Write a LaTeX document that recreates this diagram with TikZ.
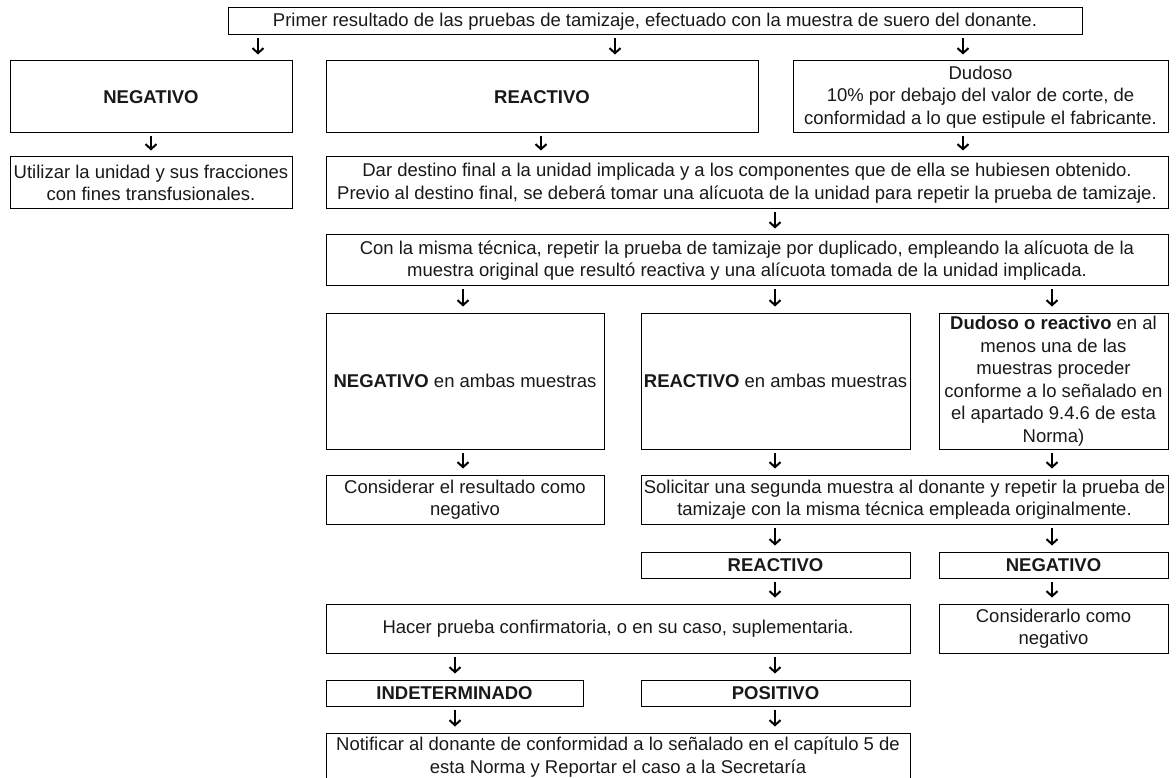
\documentclass[tikz,border=0pt]{standalone}
\usepackage{fontspec}
\setmainfont{Liberation Sans}
\usetikzlibrary{arrows.meta}

\tikzset{
  box/.style={draw, line width=1pt, align=center, inner sep=2pt,
    font=\fontsize{18.5}{22.5}\selectfont, text=black!90},
  arr/.style={line width=2pt, -{Straight Barb[length=5pt,width=11pt]},
    shorten <=3pt, shorten >=6pt}
}

\begin{document}
\begin{tikzpicture}[x=1pt, y=-1pt]
\useasboundingbox (0,0) rectangle (1176,778);
\clip (0,0) rectangle (1176,778);
% first level
\node [box, minimum width=854pt, minimum height=27pt] (primer) at (655,21.5) {Primer resultado de las pruebas de tamizaje, efectuado con la muestra de suero del donante.};
\node [box, minimum width=282pt, minimum height=72pt] (negA) at (151,97) {\textbf{NEGATIVO}};
\node [box, minimum width=432pt, minimum height=72pt] (reacA) at (542,97) {\textbf{REACTIVO}};
\node [box, minimum width=375pt, minimum height=72pt] (dudA) at (980.5,97) {Dudoso\\10\% por debajo del valor de corte, de\\conformidad a lo que estipule el fabricante.};
\node [box, minimum width=282pt, minimum height=52pt] (utilizar) at (151,183) {Utilizar la unidad y sus fracciones\\con fines transfusionales.};
\node [box, minimum width=842pt, minimum height=52pt] (destino) at (747,183) {Dar destino final a la unidad implicada y a los componentes que de ella se hubiesen obtenido.\\Previo al destino final, se deberá tomar una alícuota de la unidad para repetir la prueba de tamizaje.};
\node [box, minimum width=842pt, minimum height=51pt] (repetir) at (747,260.5) {Con la misma técnica, repetir la prueba de tamizaje por duplicado, empleando la alícuota de la\\muestra original que resultó reactiva y una alícuota tomada de la unidad implicada.};
% duplicate test
\node [box, minimum width=278pt, minimum height=136pt] (negB) at (465,381) {\textbf{NEGATIVO} en ambas muestras};
\node [box, minimum width=269pt, minimum height=136pt] (reacB) at (775.5,381) {\textbf{REACTIVO} en ambas muestras};
\node [box, minimum width=229pt, minimum height=136pt] (dudB) at (1053.5,381) {\textbf{Dudoso o reactivo} en al\\menos una de las\\muestras proceder\\conforme a lo señalado en\\el apartado 9.4.6 de esta\\Norma)};
\node [box, minimum width=278pt, minimum height=49pt] (considerar) at (465,499.5) {Considerar el resultado como\\negativo};
\node [box, minimum width=527pt, minimum height=49pt] (solicitar) at (904.5,499.5) {Solicitar una segunda muestra al donante y repetir la prueba de\\tamizaje con la misma técnica empleada originalmente.};
% second sample
\node [box, minimum width=269pt, minimum height=26pt] (reacC) at (775.5,565) {\textbf{REACTIVO}};
\node [box, minimum width=229pt, minimum height=26pt] (negC) at (1053.5,565) {\textbf{NEGATIVO}};
\node [box, minimum width=584pt, minimum height=49pt] (hacer) at (618,628.5) {Hacer prueba confirmatoria, o en su caso, suplementaria.};
\node [box, minimum width=229pt, minimum height=49pt] (considerarlo) at (1053.5,628.5) {Considerarlo como\\negativo};
\node [box, minimum width=257pt, minimum height=26pt] (indet) at (454.5,693) {\textbf{INDETERMINADO}};
\node [box, minimum width=269pt, minimum height=26pt] (positivo) at (775.5,693) {\textbf{POSITIVO}};
\node [box, minimum width=584pt, minimum height=48pt] (notificar) at (618,757) {Notificar al donante de conformidad a lo señalado en el capítulo 5 de\\esta Norma y Reportar el caso a la Secretaría};
% arrows
\draw [arr] (primer.south -| 258,0) -- (negA.north -| 258,0);
\draw [arr] (primer.south -| 615,0) -- (reacA.north -| 615,0);
\draw [arr] (primer.south -| 963,0) -- (dudA.north -| 963,0);
\draw [arr] (negA.south -| 151,0) -- (utilizar.north -| 151,0);
\draw [arr] (reacA.south -| 541,0) -- (destino.north -| 541,0);
\draw [arr] (dudA.south -| 963,0) -- (destino.north -| 963,0);
\draw [arr] (destino.south -| 775,0) -- (repetir.north -| 775,0);
\draw [arr] (repetir.south -| 463,0) -- (negB.north -| 463,0);
\draw [arr] (repetir.south -| 775,0) -- (reacB.north -| 775,0);
\draw [arr] (repetir.south -| 1052,0) -- (dudB.north -| 1052,0);
\draw [arr] (negB.south -| 463,0) -- (considerar.north -| 463,0);
\draw [arr] (reacB.south -| 775,0) -- (solicitar.north -| 775,0);
\draw [arr] (dudB.south -| 1052,0) -- (solicitar.north -| 1052,0);
\draw [arr] (solicitar.south -| 775,0) -- (reacC.north -| 775,0);
\draw [arr] (solicitar.south -| 1052,0) -- (negC.north -| 1052,0);
\draw [arr] (reacC.south -| 775,0) -- (hacer.north -| 775,0);
\draw [arr] (negC.south -| 1052,0) -- (considerarlo.north -| 1052,0);
\draw [arr] (hacer.south -| 455,0) -- (indet.north -| 455,0);
\draw [arr] (hacer.south -| 775,0) -- (positivo.north -| 775,0);
\draw [arr] (indet.south -| 455,0) -- (notificar.north -| 455,0);
\draw [arr] (positivo.south -| 775,0) -- (notificar.north -| 775,0);
\end{tikzpicture}
\end{document}
